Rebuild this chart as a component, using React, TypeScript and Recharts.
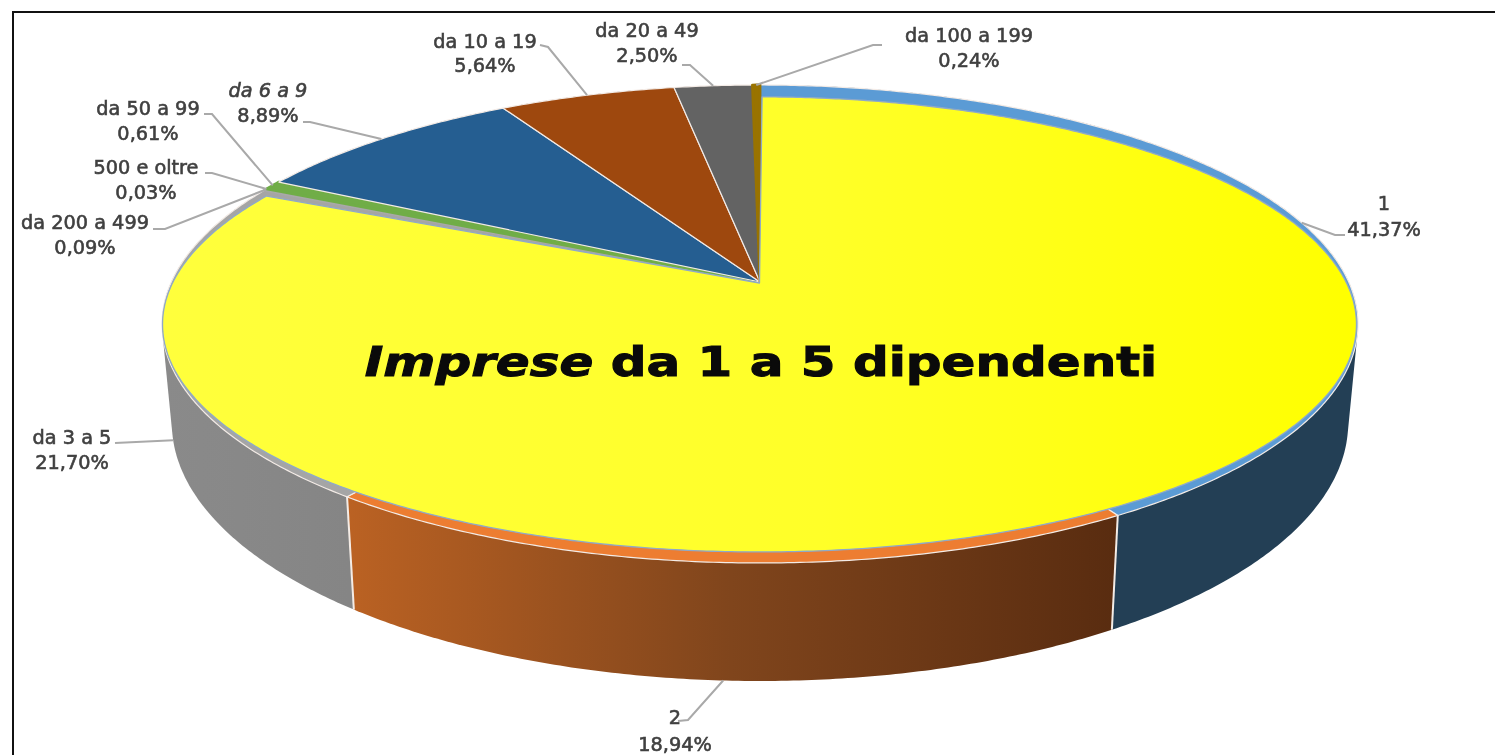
import React from 'react';
import { PieChart, Pie } from 'recharts';

const CATEGORIES = ['1', '2', 'da 3 a 5', 'da 200 a 499', '500 e oltre', 'da 50 a 99', 'da 6 a 9', 'da 10 a 19', 'da 20 a 49', 'da 100 a 199'];
const SHARES = [41.37, 18.94, 21.7, 0.09, 0.03, 0.61, 8.89, 5.64, 2.5, 0.24];
const GROUP_TITLE = 'dipendenti';
const GROUP_LEAD = 'Imprese';
const GROUP_RANGE = 'da 1 a 5';
const GROUP_SIZE = 3;

const TOP_COLORS = ['#5b9bd5', '#ed7d31', '#a5a5a5', '#a9a9a9', '#a9a9a9', '#70ad47', '#255e91', '#9e480e', '#636363', '#997300'];
const WALL_COLORS = ['#233f55', 'url(#wall2)', 'url(#wall3)', '#888', '#888', '#888', '#888', '#888', '#888', '#888'];

type Geo = { cx: number; cy: number; a: number; b: number; k: number };
type Pt = [number, number];
const TOP: Geo = { cx: 760, cy: 282, a: 588.7, b: 231.6, k: 0.1757 };
const BOTTOM: Geo = { cx: 760, cy: 377.7, a: 579, b: 250, k: 0.1757 };
const YELLOW: Geo = { cx: 759.5, cy: 283, a: 587, b: 220, k: 0.182 };

const project = (g: Geo, deg: number): Pt => {
  const t = (deg * Math.PI) / 180;
  const u = Math.sin(t);
  const v = -Math.cos(t);
  const w = 1 - g.k * v;
  return [g.cx + (g.a * u) / w, g.cy + (g.b * v) / w];
};
const arc = (g: Geo, from: number, to: number): Pt[] => {
  const n = Math.max(2, Math.ceil(Math.abs(to - from) / 0.5));
  const out: Pt[] = [];
  for (let i = 0; i <= n; i++) out.push(project(g, from + ((to - from) * i) / n));
  return out;
};
const toPath = (pts: Pt[]) => 'M' + pts.map((p) => p[0].toFixed(2) + ' ' + p[1].toFixed(2)).join('L') + 'Z';

const hull = (input: Pt[]): Pt[] => {
  const pts = [...input].sort((p, q) => p[0] - q[0] || p[1] - q[1]);
  const cross = (o: Pt, p: Pt, q: Pt) => (p[0] - o[0]) * (q[1] - o[1]) - (p[1] - o[1]) * (q[0] - o[0]);
  const half = (list: Pt[]) => {
    const h: Pt[] = [];
    for (const p of list) {
      while (h.length >= 2 && cross(h[h.length - 2], h[h.length - 1], p) <= 0) h.pop();
      h.push(p);
    }
    h.pop();
    return h;
  };
  return [...half(pts), ...half([...pts].reverse())];
};

const LABEL_LAYOUT = [
  { tx: 1384, y1: 203, y2: 229, on: 'top', elbow: [[1335, 235], [1345, 235]] },
  { tx: 675, y1: 717, y2: 744, on: 'bottom', elbow: [[688, 720], [678, 721]] },
  { tx: 72, y1: 437, y2: 462, on: 'bottom', elbow: [[115, 443]] },
  { tx: 85, y1: 222, y2: 247, on: 'top', elbow: [[165, 229], [153, 229]] },
  { tx: 146, y1: 167, y2: 192, on: 'top', elbow: [[212, 173], [205, 173]] },
  { tx: 148, y1: 108, y2: 133, on: 'top', elbow: [[212, 114], [204, 114]] },
  { tx: 268, y1: 90, y2: 115, on: 'top', italic: true, elbow: [[310, 122], [303, 122]] },
  { tx: 485, y1: 41, y2: 65, on: 'top', elbow: [[548, 47], [540, 45]] },
  { tx: 647, y1: 30, y2: 55, on: 'top', elbow: [[690, 65], [682, 65]] },
  { tx: 969, y1: 35, y2: 60, on: 'top', elbow: [[873, 45], [882, 45]] },
];

const WallShape = (p: any) => {
  const a0 = 90 - p.startAngle;
  const a1 = 90 - p.endAngle;
  const i = p.index;
  const startTop = project(TOP, a0);
  const startBot = project(BOTTOM, a0);
  return (
    <g>
      {i === 1 && (
        <linearGradient id="wall2" gradientUnits="userSpaceOnUse" x1="345" x2="1117" y1="0" y2="0">
          <stop offset="0" stopColor="#bb6223" />
          <stop offset="0.5" stopColor="#80451c" />
          <stop offset="1" stopColor="#592c10" />
        </linearGradient>
      )}
      {i === 2 && (
        <linearGradient id="wall3" gradientUnits="userSpaceOnUse" x1="165" x2="350" y1="0" y2="0">
          <stop offset="0" stopColor="#8a8a8a" />
          <stop offset="1" stopColor="#858585" />
        </linearGradient>
      )}
      <path d={toPath(hull([...arc(TOP, a0, a1), ...arc(BOTTOM, a0, a1)]))} fill={WALL_COLORS[i]} />
      {(i === 1 || i === 2) && <line x1={startTop[0]} y1={startTop[1]} x2={startBot[0]} y2={startBot[1]} stroke="#f4ece6" strokeWidth={2} />}
    </g>
  );
};

const TopShape = (p: any) => {
  const a0 = 90 - p.startAngle;
  const a1 = 90 - p.endAngle;
  const pts: Pt[] = [[TOP.cx, TOP.cy], ...arc(TOP, a0, a1)];
  const i = p.index;
  const thin = SHARES[i] < 1;
  return (
    <path
      d={toPath(pts)}
      fill={TOP_COLORS[i]}
      stroke={thin ? TOP_COLORS[i] : '#f3ebe6'}
      strokeWidth={thin ? 2.8 : 1.2}
      strokeLinejoin="round"
    />
  );
};

const YellowShape = (p: any) => {
  if (p.index !== 0) return <g />;
  const pts: Pt[] = [[YELLOW.cx, YELLOW.cy], ...arc(YELLOW, 90 - p.startAngle + 0.3, 90 - p.endAngle)];
  return (
    <g>
      <linearGradient id="yellowFill" gradientUnits="userSpaceOnUse" x1="165" x2="1355" y1="0" y2="0">
        <stop offset="0" stopColor="#ffff3c" />
        <stop offset="0.55" stopColor="#ffff28" />
        <stop offset="1" stopColor="#ffff00" />
      </linearGradient>
      <path d={toPath(pts)} fill="url(#yellowFill)" stroke="#8fa9c8" strokeWidth={1.3} strokeLinejoin="round" />
    </g>
  );
};

const sliceLabel = (p: any) => {
  const i = p.index;
  const l: any = LABEL_LAYOUT[i];
  const anchor = project(l.on === 'top' ? TOP : BOTTOM, 90 - p.midAngle);
  const pts = [anchor, ...l.elbow].map((q: number[]) => q.join(',')).join(' ');
  return (
    <g key={i}>
      <polyline points={pts} fill="none" stroke="#a9a9a9" strokeWidth={2} />
      <g
        fontFamily="DejaVu Sans"
        fontSize={19.3}
        fill="#404040"
        stroke="#404040"
        strokeWidth={0.6}
        textAnchor="middle"
        dominantBaseline="central"
        fontStyle={l.italic ? 'italic' : 'normal'}
      >
        <text x={l.tx} y={l.y1}>{CATEGORIES[i]}</text>
        <text x={l.tx} y={l.y2} fontStyle="normal">{SHARES[i].toFixed(2).replace('.', ',')}%</text>
      </g>
    </g>
  );
};

const groupLabel = (p: any) => {
  if (p.index !== 0) return <g key="none" />;
  return (
    <text
      key="title"
      transform="translate(761 376) scale(1.249 1)"
      textAnchor="middle"
      fontFamily="DejaVu Sans"
      fontWeight="bold"
      fontSize={40}
      fill="#0a0a0a"
      stroke="#0a0a0a"
      strokeWidth={1}
    >
      <tspan fontStyle="italic">{GROUP_LEAD}</tspan> {GROUP_RANGE} {GROUP_TITLE}
    </text>
  );
};

const sliceData = CATEGORIES.map((name, i) => ({ name, value: SHARES[i] }));
const groupValue = SHARES.slice(0, GROUP_SIZE).reduce((s, v) => s + v, 0);
const restValue = SHARES.slice(GROUP_SIZE).reduce((s, v) => s + v, 0);
const groupData = [
  { name: GROUP_RANGE, value: groupValue },
  { name: 'altre', value: restValue },
];

export default function App() {
  return (
    <div style={{ position: 'absolute', left: 0, top: 0, width: 1495, height: 755, background: '#fff', overflow: 'hidden' }}>
      <div style={{ position: 'absolute', left: 12, top: 11, width: 1490, height: 750, borderLeft: '2px solid #111', borderTop: '2px solid #111' }} />
      <div style={{ position: 'absolute', left: 0, top: 0, filter: 'blur(0.5px)' }}>
        <PieChart width={1495} height={755} margin={{ top: 0, right: 0, bottom: 0, left: 0 }}>
          <Pie data={sliceData} dataKey="value" nameKey="name" cx={760} cy={282} outerRadius={200} startAngle={90} endAngle={-270} stroke="none" isAnimationActive={false} shape={WallShape} label={false} labelLine={false} />
          <Pie data={sliceData} dataKey="value" nameKey="name" cx={760} cy={282} outerRadius={200} startAngle={90} endAngle={-270} stroke="none" isAnimationActive={false} shape={TopShape} label={sliceLabel} labelLine={false} />
          <Pie data={groupData} dataKey="value" nameKey="name" cx={761} cy={283} outerRadius={200} startAngle={90} endAngle={-270} stroke="none" isAnimationActive={false} shape={YellowShape} label={groupLabel} labelLine={false} />
        </PieChart>
      </div>
    </div>
  );
}
